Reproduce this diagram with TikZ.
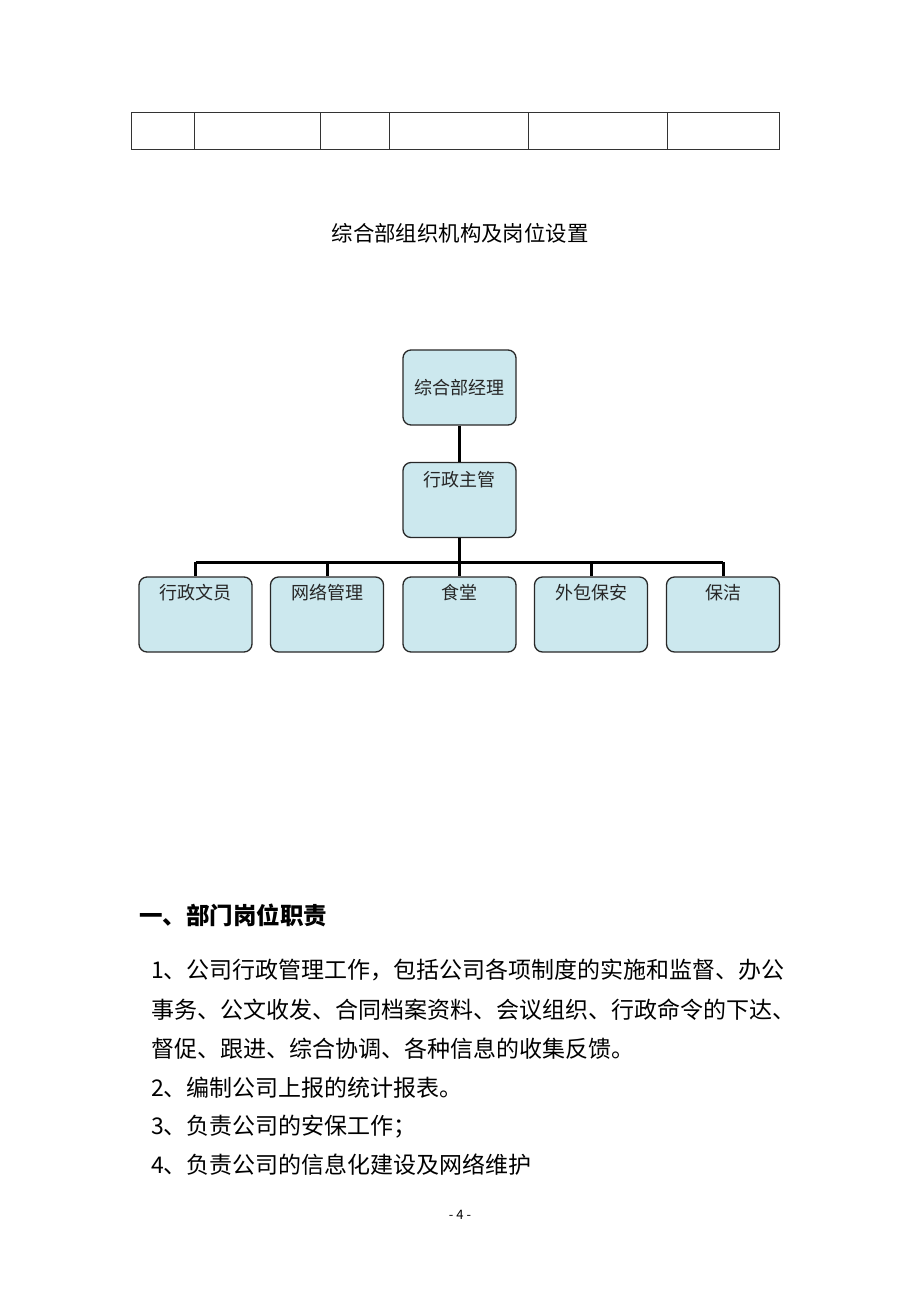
\documentclass[tikz,border=0pt]{standalone}
\usepackage{fontspec}
\setmainfont{Noto Sans CJK SC}
\newfontfamily\cjk{Noto Sans CJK SC}
\definecolor{boxfill}{RGB}{204,232,238}
\definecolor{boxline}{RGB}{40,40,40}
\begin{document}
\begin{tikzpicture}[x=1pt,y=-1pt,
  orgbox/.style={draw=boxline,line width=1.3pt,fill=boxfill,rounded corners=8pt,minimum width=113pt,minimum height=75pt,inner sep=0pt},
  orgtext/.style={font=\fontsize{18}{21}\selectfont\cjk,text=black!85},
  conn/.style={line width=3pt,black},
  cell/.style={draw=black!80,line width=0.8pt},
  body/.style={anchor=west,inner sep=0pt,font=\fontsize{23}{26}\selectfont\cjk}
]
\useasboundingbox (0,0) rectangle (920,1302);
% top table
\draw[cell] (131,112) rectangle (779,149);
\foreach \x in {194,320,389,528,667} \draw[cell] (\x,112) -- (\x,149);
% title
\node[font=\fontsize{21.4}{24}\selectfont\cjk] (title) at (460,233) {综合部组织机构及岗位设置};
% boxes
\node[orgbox] (mgr) at (459.5,387.5) {};
\node[orgtext] at (mgr.center) {综合部经理};
\node[orgbox] (sup) at (459.5,500) {};
\node[orgtext] at (459.5,480) {行政主管};
\foreach \n/\x/\t in {b1/195.5/行政文员,b2/327/网络管理,b3/459.5/食堂,b4/591/外包保安,b5/723/保洁}{
  \node[orgbox] (\n) at (\x,614.5) {};
  \node[orgtext] at (\x,593) {\t};
}
\coordinate (bar) at (459.5,562);
\draw[conn] (mgr.south) -- (sup.north);
\draw[conn] (sup.south) -- (bar);
\draw[conn] (b1.north |- bar) -- (b5.north |- bar);
\foreach \n in {b1,b2,b3,b4,b5} \draw[conn] (\n.north |- bar) -- (\n.north);
% text
\node[anchor=west,inner sep=0pt,font=\fontsize{23.5}{26}\selectfont\cjk\bfseries] (h1) at (139,915) {一、部门岗位职责};
\node[body] (l1) at (151,970) {1、公司行政管理工作，包括公司各项制度的实施和监督、办公};
\node[body] (l2) at (151,1010) {事务、公文收发、合同档案资料、会议组织、行政命令的下达、};
\node[body] (l3) at (151,1049) {督促、跟进、综合协调、各种信息的收集反馈。};
\node[body] (l4) at (151,1088) {2、编制公司上报的统计报表。};
\node[body] (l5) at (151,1127) {3、负责公司的安保工作；};
\node[body] (l6) at (151,1165) {4、负责公司的信息化建设及网络维护};
\node[font=\fontsize{13}{15}\selectfont] (pg) at (460,1215) {- 4 -};
\end{tikzpicture}
\end{document}
